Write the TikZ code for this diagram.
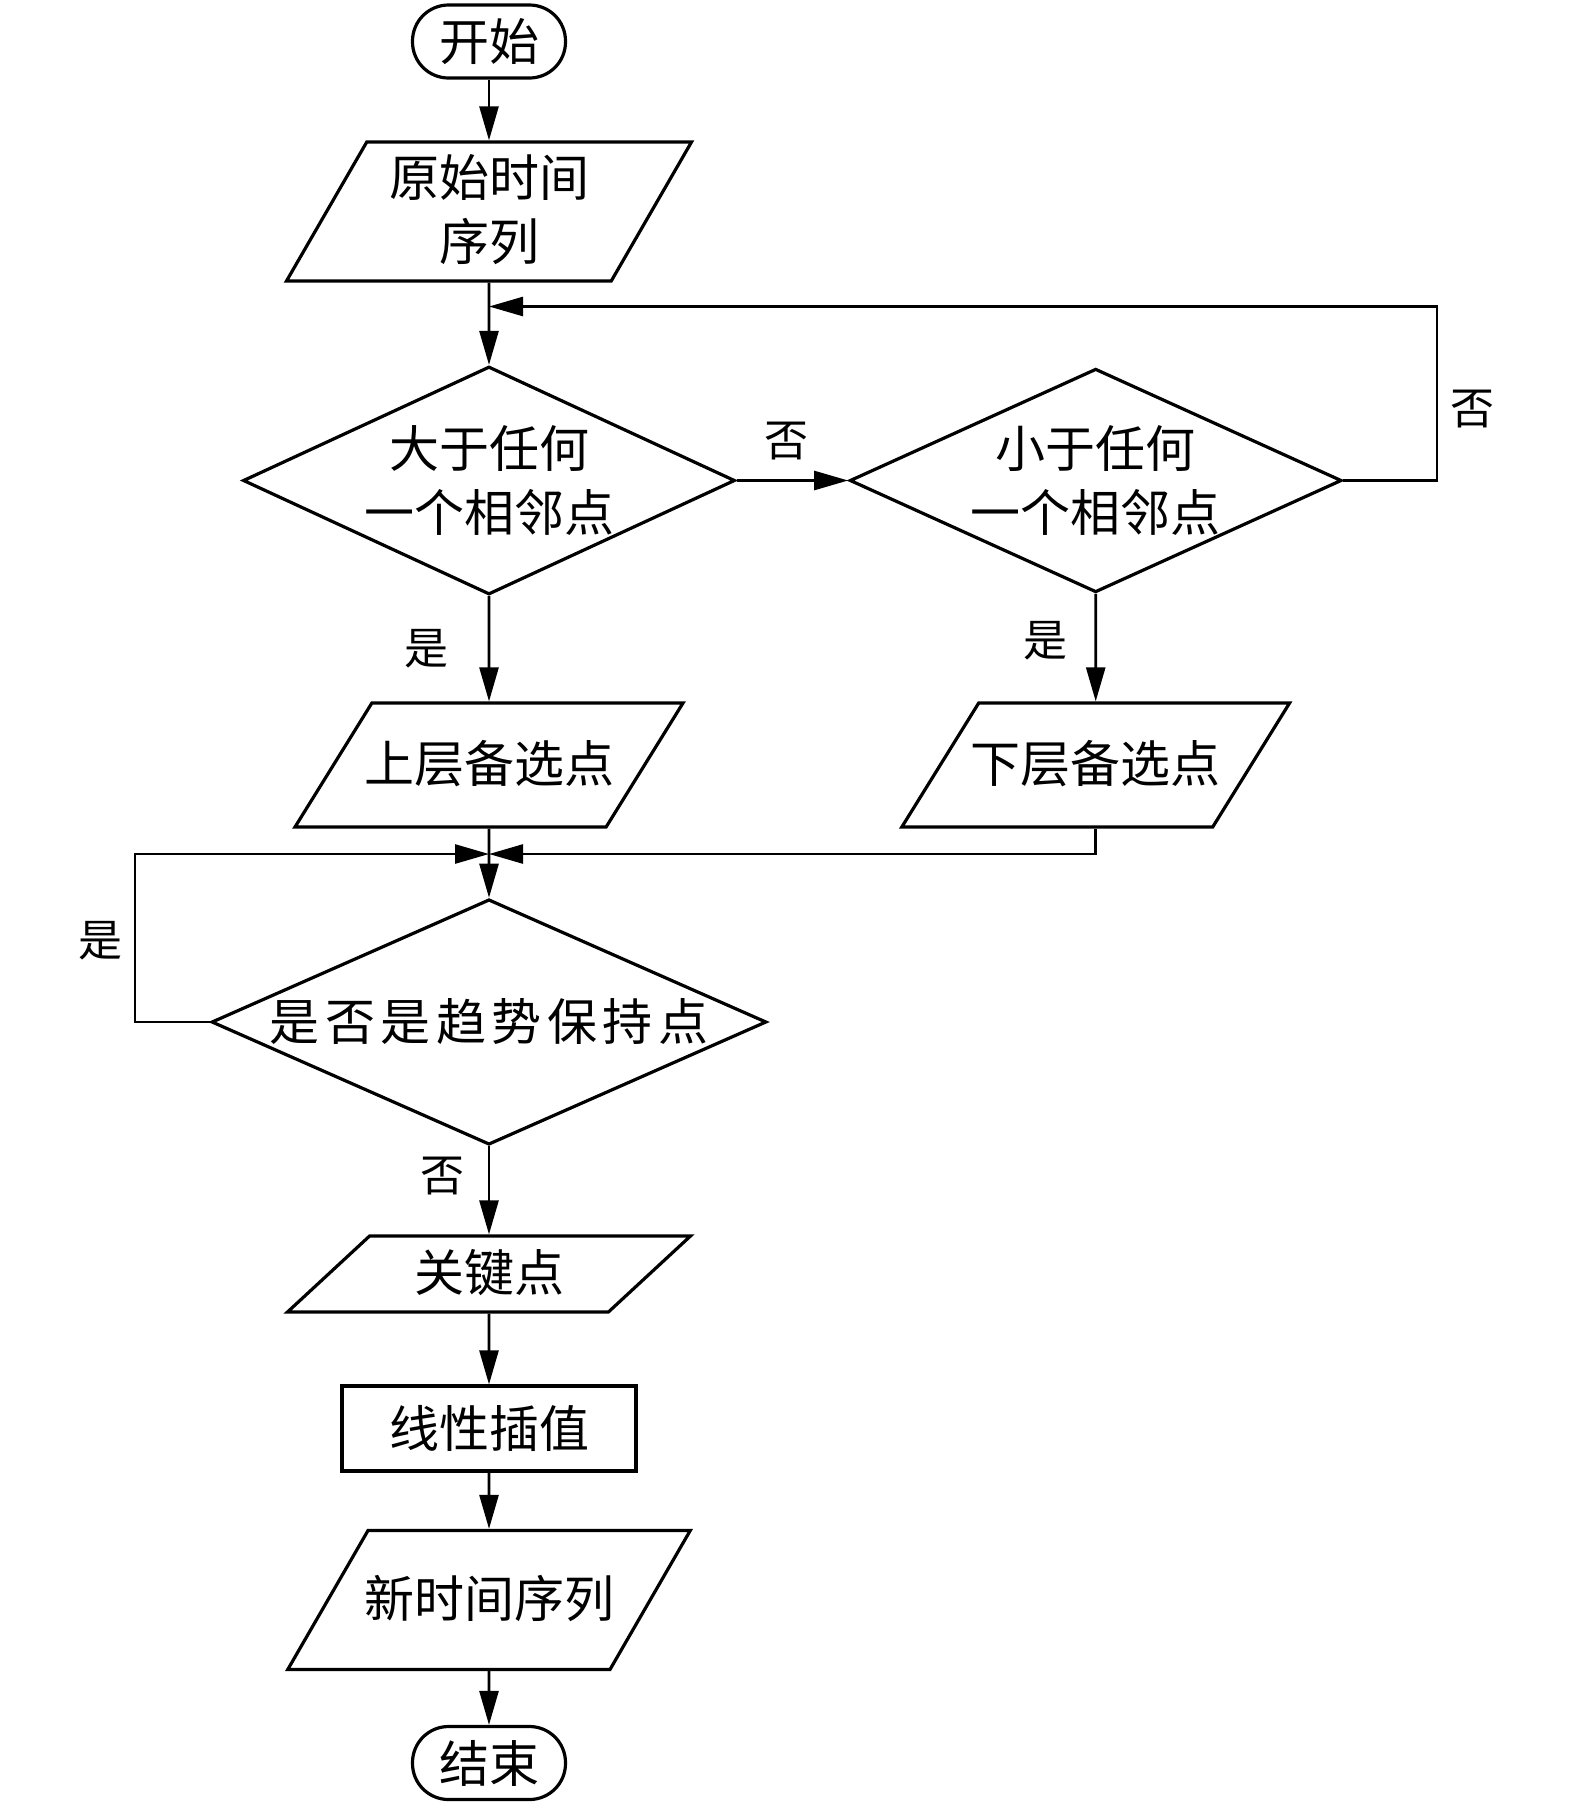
\documentclass[tikz,border=0pt]{standalone}
\usepackage{fontspec}
\setmainfont{Noto Sans CJK SC}
\newfontfamily\widecjk[LetterSpace=11]{Noto Sans CJK SC}
\usetikzlibrary{shapes.geometric,arrows.meta}

\tikzset{
  box/.style={draw, line width=1.6pt, inner sep=0pt, align=center,
    font=\fontsize{25pt}{32pt}\selectfont},
  term/.style={box, rounded corners=18pt, minimum width=76.5pt, minimum height=36.5pt},
  proc/.style={box, minimum width=147pt, minimum height=42.5pt},
  decide/.style={box, diamond, aspect=2.2},
  io/.style={box, trapezium, trapezium stretches body,
    trapezium left angle=#1, trapezium right angle=180-#1,
    text height=21pt, text depth=4pt},
  lbl/.style={inner sep=0pt, font=\fontsize{22pt}{26pt}\selectfont},
  arr/.style={line width=1.3pt, -{Triangle[length=17pt,width=9.5pt]}}
}

\begin{document}
\begin{tikzpicture}[x=0.5pt,y=0.5pt,yscale=-1,xscale=1]
\useasboundingbox (0,0) rectangle (1575,1806);

% Terminals and boxes
\node [term] (start) at (489,41.5) {开始};
\node [io=60, text height=53pt, inner ysep=6.25pt, minimum width=202.5pt] (orig) at (489,211.5) {原始时间\\序列};
\node [decide, minimum width=246pt, minimum height=114pt] (big) at (489,480.5) {大于任何\\一个相邻点};
\node [decide, minimum width=243.5pt, minimum height=109.5pt] (small) at (1095.7,480.5) {小于任何\\一个相邻点};
\node [io=58.2, inner ysep=18.5pt, inner xsep=-4pt, minimum width=194pt] (upper) at (489,765) {上层备选点};
\node [io=58.2, inner ysep=18.5pt, inner xsep=-4pt, minimum width=193.5pt] (lower) at (1095.7,765) {下层备选点};
\node [decide, minimum width=277.5pt, minimum height=117.5pt, font=\fontsize{25pt}{32pt}\widecjk] (trend) at (489,1022) {是否是趋势保持点};
\node [io=42.8, inner ysep=6.5pt, minimum width=201.5pt] (key) at (489,1274) {关键点};
\node [proc] (interp) at (489,1428.5) {线性插值};
\node [io=60, inner ysep=22.25pt, inner xsep=-2pt, minimum width=201pt] (newseq) at (489,1600) {新时间序列};
\node [term] (stop) at (489,1763) {结束};

% Loop corners
\coordinate (topR) at (1437,306.5);
\coordinate (botL) at (135,854);

% Connectors
\draw [arr] (start) -- (orig);
\draw [arr] (orig) -- (big);
\draw [arr] (big.east) -- (small.west);
\draw [arr] (small.east) -| (topR) -- (topR -| orig.south);
\draw [arr] (big) -- (upper);
\draw [arr] (small) -- (lower);
\draw [arr] (upper) -- (trend);
\draw [arr] (lower.south) |- (botL -| upper.south);
\draw [arr] (trend.west) -| (botL) -- (botL -| upper.south);
\draw [arr] (trend) -- (key);
\draw [arr] (key) -- (interp);
\draw [arr] (interp) -- (newseq);
\draw [arr] (newseq) -- (stop);

% Labels
\node [lbl] (noA) at (786,441) {否};
\node [lbl] (noB) at (1472,409) {否};
\node [lbl] (yesA) at (426,649) {是};
\node [lbl] (yesB) at (1045,641) {是};
\node [lbl] (yesC) at (100,941) {是};
\node [lbl] (noC) at (442,1176) {否};

\end{tikzpicture}
\end{document}
